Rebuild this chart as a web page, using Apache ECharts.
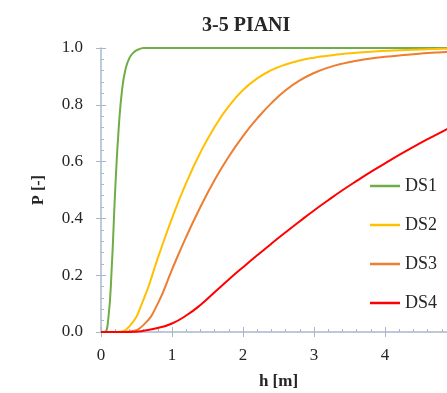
<!DOCTYPE html>
<html>
<head>
<meta charset="utf-8">
<script src="https://cdn.jsdelivr.net/npm/echarts@6/dist/echarts.min.js"></script>
<style>
  html, body { margin: 0; padding: 0; background: #fff; }
  #chart { width: 447px; height: 393px; }
</style>
</head>
<body>
<div id="chart"></div>
<script>
// flood depth h [m] -> probability of reaching each damage state
// DS1 rises very fast, so it gets its own finer depth steps
const H1  = [0, 0.05, 0.1, 0.15, 0.2, 0.25, 0.3, 0.35, 0.4, 0.45, 0.5, 0.55, 0.6, 5.0]
const DS1 = [0, 0, 0.04, 0.22, 0.5, 0.72, 0.86, 0.93, 0.965, 0.982, 0.992, 0.997, 1, 1]

const H   = [0, 0.2, 0.4, 0.6, 0.8, 1.0, 1.2, 1.4, 1.6, 1.8, 2.0, 2.2, 2.4, 2.6, 2.8, 3.0, 3.2, 3.4, 3.6, 3.8, 4.0, 4.2, 4.4, 4.6, 4.8, 5.0]
const DS2 = [0, 0, 0.02, 0.115, 0.26, 0.4, 0.525, 0.632, 0.722, 0.795, 0.852, 0.893, 0.922, 0.942, 0.956, 0.966, 0.973, 0.979, 0.983, 0.987, 0.99, 0.992, 0.994, 0.996, 0.997, 0.998]
const DS3 = [0, 0, 0.002, 0.025, 0.1, 0.22, 0.335, 0.44, 0.535, 0.618, 0.69, 0.752, 0.806, 0.851, 0.886, 0.912, 0.931, 0.945, 0.955, 0.963, 0.969, 0.974, 0.978, 0.982, 0.985, 0.988]
const DS4 = [0, 0, 0, 0.004, 0.014, 0.03, 0.058, 0.095, 0.14, 0.185, 0.228, 0.27, 0.311, 0.351, 0.39, 0.428, 0.464, 0.499, 0.532, 0.564, 0.594, 0.624, 0.652, 0.679, 0.705, 0.73]

const COLORS = {
  ds1:  '#70ad47',
  ds2:  '#ffc000',
  ds3:  '#ed7d31',
  ds4:  '#ff0000',
  axis: '#a9b7cd',
  text: '#262626',
}
const FONT = '"Liberation Serif", "DejaVu Serif", serif'

const line = (name, xs, ys, color) => ({
  name,
  type: 'line',
  data: xs.map((h, i) => [h, ys[i]]),
  smooth: true,
  symbol: 'none',
  lineStyle: { color, width: 2 },
  itemStyle: { color },
})

const xBase = { type: 'value', min: 0, max: 5, interval: 1 }
const yBase = { type: 'value', min: 0, max: 1, interval: 0.2 }

const chart = echarts.init(document.getElementById('chart'), null, { renderer: 'canvas' })
chart.setOption({
  animation: false,
  backgroundColor: '#fff',
  title: {
    text: '3-5 PIANI',
    left: 197,
    top: 11,
    textStyle: { fontFamily: FONT, fontWeight: 'bold', fontSize: 20, color: COLORS.text },
  },
  legend: {
    orient: 'vertical',
    left: 370,
    top: 177,
    padding: 0,
    icon: 'rect',
    itemWidth: 30,
    itemHeight: 2.5,
    itemGap: 21,
    textStyle: { fontFamily: FONT, fontSize: 18, color: COLORS.text },
    data: ['DS1', 'DS2', 'DS3', 'DS4'],
  },
  grid: { left: 101, right: -9, top: 48, height: 284, outerBoundsMode: 'none', containLabel: false },
  xAxis: [
    {
      ...xBase,
      name: 'h [m]',
      nameLocation: 'middle',
      nameGap: 41,
      nameTextStyle: { fontFamily: FONT, fontWeight: 'bold', fontSize: 17, color: COLORS.text },
      axisLine: { lineStyle: { color: COLORS.axis, width: 1.5 } },
      axisTick: { inside: true, length: 5, lineStyle: { color: COLORS.axis } },
      minorTick: { show: true, splitNumber: 5, length: 3, lineStyle: { color: COLORS.axis } },
      axisLabel: { fontFamily: FONT, fontSize: 17, color: COLORS.text, margin: 15 },
      splitLine: { show: false },
    },
    {
      ...xBase,
      position: 'bottom',
      axisLine: { show: false },
      axisTick: { inside: false, length: 5, lineStyle: { color: COLORS.axis } },
      axisLabel: { show: false },
      splitLine: { show: false },
    },
  ],
  yAxis: [
    {
      ...yBase,
      name: 'P [-]',
      nameLocation: 'middle',
      nameGap: 54,
      nameTextStyle: { fontFamily: FONT, fontWeight: 'bold', fontSize: 16, color: COLORS.text },
      axisLine: { show: true, lineStyle: { color: COLORS.axis, width: 1.5 } },
      axisTick: { show: true, inside: true, length: 5, lineStyle: { color: COLORS.axis } },
      minorTick: { show: true, splitNumber: 5, length: 3, lineStyle: { color: COLORS.axis } },
      axisLabel: { fontFamily: FONT, fontSize: 17, color: COLORS.text, margin: 18, formatter: v => v.toFixed(1) },
      splitLine: { show: false },
    },
    {
      ...yBase,
      position: 'left',
      axisLine: { show: false },
      axisTick: { show: true, inside: false, length: 5, lineStyle: { color: COLORS.axis } },
      axisLabel: { show: false },
      splitLine: { show: false },
    },
  ],
  series: [
    line('DS1', H1, DS1, COLORS.ds1),
    line('DS2', H, DS2, COLORS.ds2),
    line('DS3', H, DS3, COLORS.ds3),
    line('DS4', H, DS4, COLORS.ds4),
  ],
})
</script>
</body>
</html>
